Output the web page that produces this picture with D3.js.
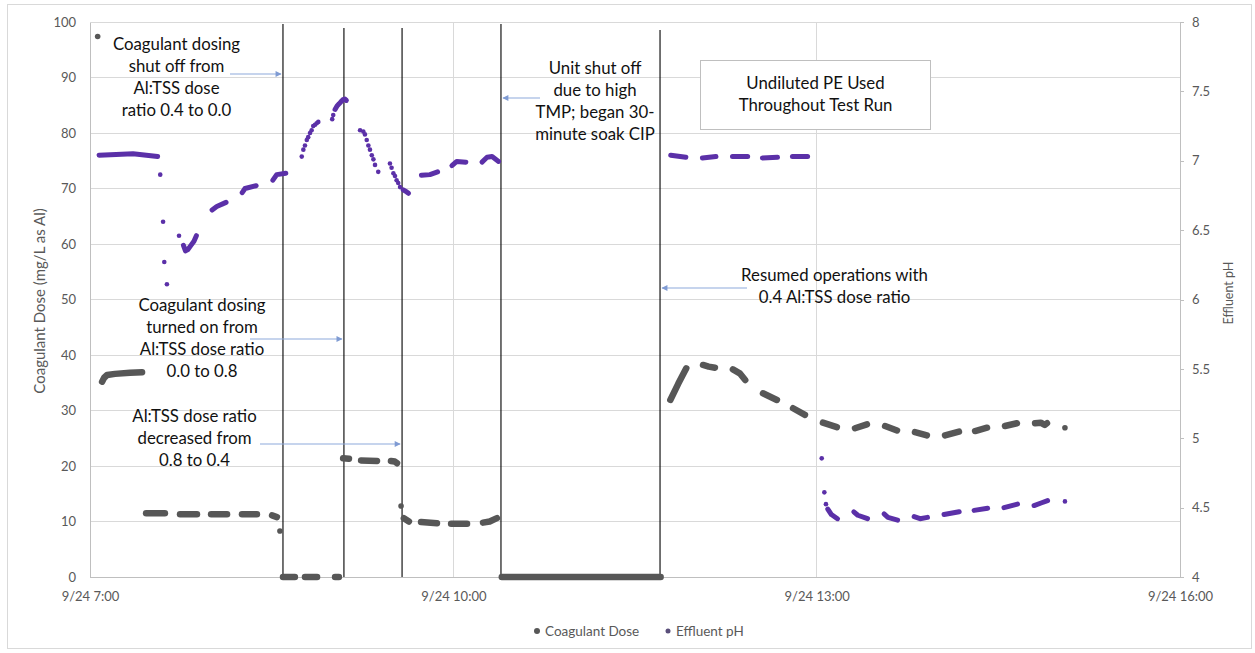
<!DOCTYPE html>
<html>
<head>
<meta charset="utf-8">
<script src="https://cdn.jsdelivr.net/npm/d3@7"></script>
<style>
  body { margin: 0; background: #fff; }
  svg { display: block; font-family: Lato, "Open Sans", sans-serif; }
</style>
</head>
<body>
<div id="chart"></div>
<script>
// all times are minutes after 9/24 7:00
// runs of readings that show up as dashes, [minute, value]
var doseDashes = [
  [[6.0, 35.2], [7.0, 35.9], [8.5, 36.4], [12.4, 36.6], [19.8, 36.8], [25.8, 36.9]],
  [[27.8, 11.5], [37.1, 11.5]],
  [[44.6, 11.3], [53.0, 11.3]],
  [[60.0, 11.3], [67.9, 11.3]],
  [[75.3, 11.3], [82.7, 11.3]],
  [[90.2, 11.1], [92.6, 10.8]],
  [[95.6, 0], [101.5, 0]],
  [[106.5, 0], [112.5, 0]],
  [[121.4, 0], [123.3, 0]],
  [[125.4, 21.4], [128.3, 21.3]],
  [[134.3, 21.0], [142.2, 20.9]],
  [[149.1, 20.9], [151.0, 20.8], [152.1, 20.5]],
  [[155.5, 10.6], [158.0, 10.0]],
  [[164.0, 9.9], [171.9, 9.7]],
  [[178.9, 9.6], [186.8, 9.6]],
  [[194.7, 9.8], [198.0, 10.0], [201.6, 10.6]],
  [[204.0, 0], [282.7, 0]],
  [[287.5, 31.9], [291.4, 34.8], [295.4, 37.6]],
  [[303.7, 38.2], [306.5, 37.9], [309.6, 37.7]],
  [[318.5, 37.4], [321.9, 36.7], [324.6, 35.5]],
  [[333.4, 33.1], [340.3, 31.9]],
  [[348.3, 30.4], [354.2, 29.2]],
  [[363.1, 27.8], [370.0, 27.0]],
  [[379.0, 26.8], [384.9, 27.5]],
  [[393.9, 27.2], [399.8, 26.4]],
  [[408.7, 26.1], [414.6, 25.5]],
  [[423.6, 25.5], [430.5, 26.2]],
  [[438.5, 26.3], [444.4, 26.9]],
  [[453.3, 27.2], [459.2, 27.7]],
  [[468.2, 27.7], [471.0, 27.8], [473.0, 27.4], [474.1, 27.7]]
];
// single readings
var doseDots = [[3.8, 97.4], [94.1, 8.3], [154.1, 12.8], [483.0, 26.9]];

var phDashes = [
  [[4.5, 7.04], [21.3, 7.05], [33.5, 7.03]],
  [[46.3, 6.39], [47.3, 6.35], [48.5, 6.36], [50.0, 6.39], [51.5, 6.42], [52.7, 6.46]],
  [[60.5, 6.645], [62.8, 6.67], [67.4, 6.70]],
  [[75.4, 6.77], [76.8, 6.80], [82.3, 6.82]],
  [[90.6, 6.86], [92.5, 6.90], [97.0, 6.91]],
  [[121.4, 7.37], [122.4, 7.395], [123.4, 7.41], [124.3, 7.425], [125.3, 7.44], [126.3, 7.445], [127.0, 7.435]],
  [[155.2, 6.79], [156.9, 6.775], [157.8, 6.765]],
  [[164.2, 6.895], [168.4, 6.90], [172.2, 6.92]],
  [[179.3, 6.965], [181.7, 6.995], [186.2, 6.99]],
  [[194.2, 6.99], [196.7, 7.025], [199.2, 7.03], [202.4, 6.995]],
  [[287.7, 7.04], [295.2, 7.025]],
  [[303.4, 7.02], [310.1, 7.03]],
  [[318.3, 7.03], [325.8, 7.03]],
  [[333.1, 7.02], [340.6, 7.025]],
  [[348.0, 7.03], [355.5, 7.03]],
  [[365.5, 4.49], [367.3, 4.45], [370.3, 4.42]],
  [[378.4, 4.47], [380.4, 4.445], [385.2, 4.42]],
  [[393.4, 4.455], [395.3, 4.43], [400.1, 4.41]],
  [[408.3, 4.435], [411.2, 4.42], [414.9, 4.43]],
  [[423.1, 4.45], [430.6, 4.47]],
  [[438.0, 4.48], [444.7, 4.495]],
  [[452.8, 4.50], [459.5, 4.525]],
  [[467.7, 4.515], [471.5, 4.535], [474.4, 4.55]]
];
var phDots = [
  [34.8, 6.90], [36.2, 6.56], [36.8, 6.27], [38.1, 6.11], [44.1, 6.46],
  [104.9, 7.03], [105.7, 7.08], [106.5, 7.11], [107.4, 7.15], [108.1, 7.17], [109.0, 7.20],
  [109.8, 7.22], [110.6, 7.25], [111.5, 7.26], [112.3, 7.27], [113.1, 7.28],
  [120.0, 7.30], [120.5, 7.33],
  [133.8, 7.22], [135.4, 7.21], [136.2, 7.19], [137.1, 7.15], [137.9, 7.11], [138.7, 7.08],
  [139.6, 7.04], [140.4, 7.01], [141.2, 6.97], [142.8, 6.92],
  [148.6, 6.98], [149.4, 6.95], [150.3, 6.91], [151.1, 6.89], [151.9, 6.86], [152.7, 6.84], [153.6, 6.81],
  [362.5, 4.855], [363.8, 4.61], [364.6, 4.525],
  [483.0, 4.545]
];

var doseTicks = [0, 10, 20, 30, 40, 50, 60, 70, 80, 90, 100];
var phTicks = [4, 4.5, 5, 5.5, 6, 6.5, 7, 7.5, 8];
var timeTicks = [0, 180, 360, 540];
var eventTimes = [95.6, 125.8, 154.6, 203.6, 282.4];
var seriesNames = ["Coagulant Dose", "Effluent pH"];

var W = 1255, H = 653;
var margin = { top: 22, right: 75, bottom: 76, left: 90 },
    width = W - margin.left - margin.right,
    height = H - margin.top - margin.bottom;
var doseColor = "#575757", phColor = "#5b30a8", arrowColor = "#8ea9db";

var start = new Date(2020, 8, 24, 7, 0);
function at(m) { return new Date(start.getTime() + m * 60000); }

var x = d3.scaleTime().domain([at(0), at(540)]).range([0, width]);
var y = d3.scaleLinear().domain([0, 100]).range([height, 0]);
var y2 = d3.scaleLinear().domain([4, 8]).range([height, 0]);

var root = d3.select("#chart").append("svg")
    .attr("width", W)
    .attr("height", H);

root.append("rect")
    .attr("x", 7.5).attr("y", 4.5)
    .attr("width", 1244).attr("height", 644)
    .attr("fill", "#fff")
    .attr("stroke", "#d9d9d9");

var svg = root.append("g")
    .attr("transform", "translate(" + margin.left + "," + margin.top + ")");

// grid
svg.selectAll("line.gridY")
    .data(doseTicks.slice(1)).enter()
    .append("line")
    .attr("x1", 0).attr("x2", width)
    .attr("y1", function (d) { return y(d); })
    .attr("y2", function (d) { return y(d); })
    .style("stroke", "#d9d9d9")
    .style("shape-rendering", "crispEdges");
svg.selectAll("line.gridX")
    .data(timeTicks.slice(1, -1)).enter()
    .append("line")
    .attr("x1", function (d) { return x(at(d)); })
    .attr("x2", function (d) { return x(at(d)); })
    .attr("y1", 0).attr("y2", height)
    .style("stroke", "#d9d9d9")
    .style("shape-rendering", "crispEdges");

// axes
var xAxis = d3.axisBottom(x)
    .tickValues(timeTicks.map(at))
    .tickFormat(d3.timeFormat("%-m/%-d %-H:%M"))
    .tickSize(0).tickPadding(15);
var yAxis = d3.axisLeft(y).tickValues(doseTicks).tickSize(0).tickPadding(14);
var y2Axis = d3.axisRight(y2).tickValues(phTicks).tickFormat(d3.format("~g")).tickSize(4).tickPadding(8);

svg.append("g").attr("class", "axis")
    .attr("transform", "translate(0," + height + ")")
    .call(xAxis);
svg.append("g").attr("class", "axis")
    .call(yAxis);
svg.append("g").attr("class", "axis")
    .attr("transform", "translate(" + width + ",0)")
    .call(y2Axis);

svg.selectAll(".axis path, .axis line")
    .style("stroke", "#bfbfbf")
    .style("shape-rendering", "crispEdges");
svg.selectAll(".axis text")
    .style("font-size", "13px")
    .style("font-family", "Lato, sans-serif")
    .style("fill", "#595959");

svg.append("text")
    .attr("transform", "rotate(-90)")
    .attr("x", -(301 - margin.top)).attr("y", 40 - margin.left)
    .attr("dy", "0.35em")
    .style("text-anchor", "middle")
    .style("font-size", "15px")
    .style("fill", "#595959")
    .text("Coagulant Dose (mg/L as Al)");
svg.append("text")
    .attr("transform", "rotate(-90)")
    .attr("x", -(293 - margin.top)).attr("y", 1229 - margin.left)
    .attr("dy", "0.35em")
    .style("text-anchor", "middle")
    .style("font-size", "12.5px")
    .style("fill", "#595959")
    .text("Effluent pH");

// event lines
var eventTops = [24, 28, 28, 24, 30];
svg.selectAll("line.event")
    .data(eventTimes).enter()
    .append("line")
    .attr("x1", function (d) { return x(at(d)); })
    .attr("x2", function (d) { return x(at(d)); })
    .attr("y1", function (d, i) { return eventTops[i] - margin.top; })
    .attr("y2", height)
    .style("stroke", "#000")
    .style("stroke-width", "1.1px");

// series
var doseLine = d3.line()
    .x(function (d) { return x(at(d[0])); })
    .y(function (d) { return y(d[1]); });
var phLine = d3.line()
    .x(function (d) { return x(at(d[0])); })
    .y(function (d) { return y2(d[1]); });

svg.selectAll("path.dose")
    .data(doseDashes).enter()
    .append("path")
    .attr("class", "dose")
    .attr("d", doseLine)
    .style("fill", "none")
    .style("stroke", doseColor)
    .style("stroke-width", "6.5px")
    .style("stroke-linecap", "round")
    .style("stroke-linejoin", "round");
svg.selectAll("circle.dose")
    .data(doseDots).enter()
    .append("circle")
    .attr("cx", function (d) { return x(at(d[0])); })
    .attr("cy", function (d) { return y(d[1]); })
    .attr("r", 2.8)
    .style("fill", doseColor);

svg.selectAll("path.ph")
    .data(phDashes).enter()
    .append("path")
    .attr("class", "ph")
    .attr("d", phLine)
    .style("fill", "none")
    .style("stroke", phColor)
    .style("stroke-width", "5px")
    .style("stroke-linecap", "round")
    .style("stroke-linejoin", "round");
svg.selectAll("circle.ph")
    .data(phDots).enter()
    .append("circle")
    .attr("cx", function (d) { return x(at(d[0])); })
    .attr("cy", function (d) { return y2(d[1]); })
    .attr("r", 2.3)
    .style("fill", phColor);

// annotations (page pixels)
var defs = root.append("defs");
defs.append("marker")
    .attr("id", "head")
    .attr("viewBox", "0 0 10 10")
    .attr("refX", 9).attr("refY", 5)
    .attr("markerWidth", 7).attr("markerHeight", 6)
    .attr("markerUnits", "userSpaceOnUse")
    .attr("orient", "auto")
    .append("path")
    .attr("d", "M0,0L10,5L0,10Z")
    .style("fill", "#7f9bd3");

var arrows = [
  { tail: 230, y: 74, ev: 0, dir: 1 },
  { tail: 250, y: 339, ev: 1, dir: 1 },
  { tail: 260, y: 444, ev: 2, dir: 1 },
  { tail: 540, y: 98, ev: 3, dir: -1 },
  { tail: 747, y: 288, ev: 4, dir: -1 }
];
root.selectAll("line.arrow")
    .data(arrows).enter()
    .append("line")
    .attr("x1", function (d) { return d.tail; })
    .attr("x2", function (d) { return margin.left + x(at(eventTimes[d.ev])) - d.dir * 2; })
    .attr("y1", function (d) { return d.y; })
    .attr("y2", function (d) { return d.y; })
    .attr("marker-end", "url(#head)")
    .style("stroke", arrowColor)
    .style("stroke-width", "1.2px");

root.append("rect")
    .attr("x", 700.5).attr("y", 60.5)
    .attr("width", 230).attr("height", 69)
    .attr("fill", "#fff")
    .attr("stroke", "#bfbfbf");

var notes = [
  { cx: 176.5, y: 49.5, lines: ["Coagulant dosing", "shut off from", "Al:TSS dose", "ratio 0.4 to 0.0"] },
  { cx: 202, y: 311, lines: ["Coagulant dosing", "turned on from", "Al:TSS dose ratio", "0.0 to 0.8"] },
  { cx: 194.5, y: 422, lines: ["Al:TSS dose ratio", "decreased from", "0.8 to 0.4"] },
  { cx: 595, y: 74, lines: ["Unit shut off", "due to high", "TMP; began 30-", "minute soak CIP"] },
  { cx: 815.5, y: 89, lines: ["Undiluted PE Used", "Throughout Test Run"] },
  { cx: 834.5, y: 281, lines: ["Resumed operations with", "0.4 Al:TSS dose ratio"] }
];
notes.forEach(function (n) {
    var t = root.append("text")
        .attr("text-anchor", "middle")
        .style("font-size", "16.8px")
        .style("fill", "#111");
    n.lines.forEach(function (s, i) {
        t.append("tspan").attr("x", n.cx).attr("y", n.y + i * 22).text(s);
    });
});

// legend
var legend = root.append("g").attr("transform", "translate(0,631)");
var legendItems = [
  { x: 537, color: doseColor, r: 3 },
  { x: 668, color: "#5a4f7a", r: 2.5 }
];
legendItems.forEach(function (d, i) {
    legend.append("circle").attr("cx", d.x).attr("cy", 0).attr("r", d.r).style("fill", d.color);
    legend.append("text")
        .attr("x", d.x + 8).attr("y", 0).attr("dy", "0.35em")
        .style("font-size", "13.5px")
        .style("fill", "#595959")
        .text(seriesNames[i]);
});
</script>
</body>
</html>
